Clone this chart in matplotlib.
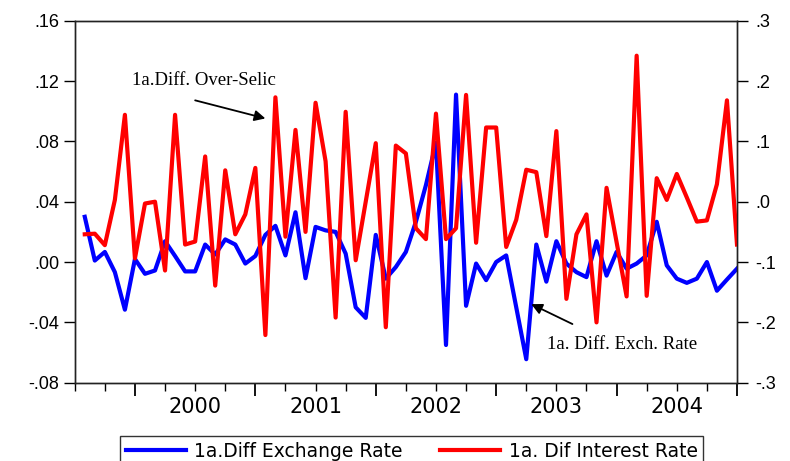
import numpy as np
import matplotlib.pyplot as plt
import matplotlib.transforms as mtransforms

# monthly observations, 1999m7 - 2004m12
exch_rate = [0.030, 0.001, 0.0067, -0.0067, -0.0316, 0.002, -0.0078, -0.0056, 0.0138, 0.004, -0.0062,
             -0.0062, 0.0116, 0.005, 0.015, 0.0116, -0.001, 0.004, 0.018, 0.024, 0.0044, 0.033,
             -0.0107, 0.0233, 0.021, 0.020, 0.0056, -0.030, -0.037, 0.018, -0.011, -0.0033,
             0.0067, 0.0267, 0.051, 0.079, -0.055, 0.111, -0.029, -0.001, -0.012, 0.0, 0.0044,
             -0.030, -0.0644, 0.0116, -0.013, 0.0138, -0.001, -0.0067, -0.010, 0.0138, -0.009, 0.0067,
             -0.0044, -0.001, 0.0044, 0.0267, -0.0022, -0.011, -0.0138, -0.011, 0.0, -0.019, -0.0116, -0.0044]
int_rate = [-0.054, -0.053, -0.072, 0.003, 0.144, -0.094, -0.003, 0.0, -0.114, 0.144, -0.071,
            -0.066, 0.075, -0.139, 0.052, -0.054, -0.021, 0.056, -0.221, 0.173, -0.058, 0.119,
            -0.05, 0.164, 0.067, -0.192, 0.149, -0.097, 0.0, 0.097, -0.208, 0.093,
            0.080, -0.044, -0.062, 0.146, -0.062, -0.044, 0.177, -0.068, 0.123, 0.123, -0.075,
            -0.030, 0.053, 0.049, -0.057, 0.117, -0.161, -0.054, -0.021, -0.2, 0.023, -0.067,
            -0.157, 0.242, -0.156, 0.039, 0.003, 0.046, 0.007, -0.033, -0.031, 0.029, 0.168, -0.071]
years = ['2000', '2001', '2002', '2003', '2004']
left_ticks = [-0.08, -0.04, 0.0, 0.04, 0.08, 0.12, 0.16]
left_labels = ['-.08', '-.04', '.00', '.04', '.08', '.12', '.16']
right_ticks = [-0.3, -0.2, -0.1, 0.0, 0.1, 0.2, 0.3]
right_labels = ['-.3', '-.2', '-.1', '.0', '.1', '.2', '.3']

plt.rcParams['font.family'] = ['Liberation Sans', 'DejaVu Sans']

x = np.arange(1, len(exch_rate) + 1)

fig = plt.figure(figsize=(7.9, 4.61), dpi=100)
ax = fig.add_axes([0.0946, 0.1698, 0.8383, 0.7853])
ax2 = ax.twinx()

l1, = ax.plot(x, exch_rate, color='#0000ff', lw=3.0, label='1a.Diff Exchange Rate')
l2, = ax2.plot(x, int_rate, color='#ff0000', lw=3.0, label='1a. Dif Interest Rate')

ax.set_xlim(0, 66)
ax.set_ylim(-0.08, 0.16)
ax2.set_ylim(-0.3, 0.3)
ax.set_yticks(left_ticks)
ax.set_yticklabels(left_labels)
ax2.set_yticks(right_ticks)
ax2.set_yticklabels(right_labels)

# year boundaries as major ticks, quarters as minor
ax.set_xticks([6, 18, 30, 42, 54, 66])
ax.set_xticks([q for q in range(0, 67, 3) if (q - 6) % 12 != 0], minor=True)
ax.set_xticklabels([])
ax.tick_params(axis='x', which='major', length=9, width=1.3, direction='out')
ax.tick_params(axis='x', which='minor', length=6, width=1.0, direction='out')
ax.tick_params(axis='y', length=8, width=1.0, labelsize=13, pad=3)
ax2.tick_params(axis='y', length=8, width=1.0, labelsize=13, pad=5)

trans = mtransforms.blended_transform_factory(ax.transData, ax.transAxes)
for i, yr in enumerate(years):
    ax.text(12 + 12 * i, -0.04, yr, transform=trans, ha='center', va='top',
            fontsize=15, family='DejaVu Sans')

for a in (ax, ax2):
    for s in a.spines.values():
        s.set_linewidth(1.0)
        s.set_color('#222222')

arrow = dict(arrowstyle='-|>', color='black', lw=1.3, mutation_scale=16, shrinkA=0, shrinkB=0)

# annotation 1 (right axis units)
ax2.text(5.7, 0.2015, '1a.Diff. Over-Selic', fontsize=13.5, family='Liberation Serif',
         ha='left', va='center')
ax2.annotate('', xy=(19.0, 0.138), xytext=(12.0, 0.168), arrowprops=arrow)

# annotation 2 (left axis units)
ax.text(47.1, -0.0544, '1a. Diff. Exch. Rate', fontsize=13.5, family='Liberation Serif',
        ha='left', va='center')
ax.annotate('', xy=(45.5, -0.0279), xytext=(49.6, -0.0411), arrowprops=arrow)

leg = fig.legend(handles=[l1, l2], loc='upper center', bbox_to_anchor=(0.521, 0.054),
                 borderaxespad=0, ncol=2, frameon=True, fancybox=False,
                 prop={'family': 'DejaVu Sans', 'size': 13.5},
                 handlelength=3.2, handletextpad=0.45, columnspacing=2.0, borderpad=0.3)
leg.get_frame().set_edgecolor('black')
leg.get_frame().set_linewidth(1.0)

fig.savefig('out.png', dpi=100)
